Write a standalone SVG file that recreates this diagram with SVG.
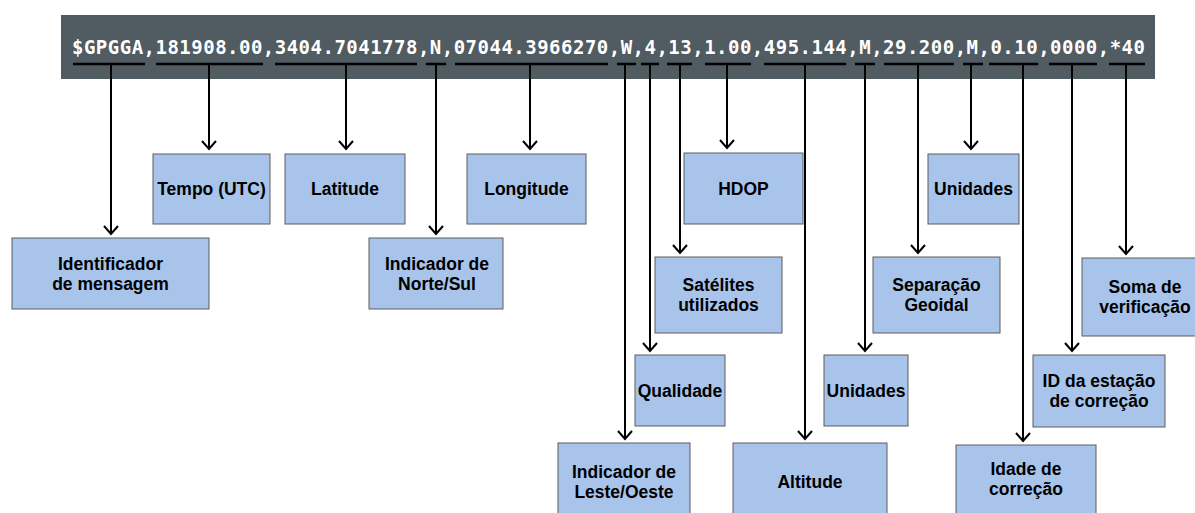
<svg xmlns="http://www.w3.org/2000/svg" width="1195" height="513" viewBox="0 0 1195 513">
<style>
.box{fill:#a9c4eb;stroke:#5c5c5c;stroke-width:1}
.lbl{font-family:"Liberation Sans",Arial,sans-serif;font-weight:bold;font-size:17.5px;fill:#000;text-anchor:middle}
.ul{stroke:#000;stroke-width:2.5;fill:none}
.con{stroke:#000;stroke-width:2;fill:none;marker-end:url(#arr)}
.nmea{font-family:"DejaVu Sans Mono","Liberation Mono",monospace;font-weight:bold;font-size:19px;fill:#fff}
</style>
<defs>
<marker id="arr" markerUnits="userSpaceOnUse" markerWidth="20" markerHeight="20" refX="0" refY="0" orient="auto" overflow="visible">
<path d="M-8,-7 L0,0 L-8,7" fill="none" stroke="#000" stroke-width="2"/>
</marker>
</defs>
<rect width="1195" height="513" fill="#fff"/>
<g id="header">
<rect x="61" y="15" width="1094" height="64" fill="#505b62"/>
<text class="nmea" x="72" y="54" textLength="1073" lengthAdjust="spacing">$GPGGA,181908.00,3404.7041778,N,07044.3966270,W,4,13,1.00,495.144,M,29.200,M,0.10,0000,*40</text>
<g id="underlines">
<line class="ul" x1="73" y1="64" x2="145" y2="64"/>
<line class="ul" x1="156" y1="64" x2="263" y2="64"/>
<line class="ul" x1="275" y1="64" x2="417" y2="64"/>
<line class="ul" x1="426" y1="64" x2="446" y2="64"/>
<line class="ul" x1="455" y1="64" x2="608" y2="64"/>
<line class="ul" x1="617" y1="64" x2="636" y2="64"/>
<line class="ul" x1="641" y1="64" x2="659" y2="64"/>
<line class="ul" x1="667" y1="64" x2="692" y2="64"/>
<line class="ul" x1="705" y1="64" x2="751" y2="64"/>
<line class="ul" x1="764" y1="64" x2="846" y2="64"/>
<line class="ul" x1="855" y1="64" x2="875" y2="64"/>
<line class="ul" x1="884" y1="64" x2="954" y2="64"/>
<line class="ul" x1="963" y1="64" x2="983" y2="64"/>
<line class="ul" x1="989" y1="64" x2="1038" y2="64"/>
<line class="ul" x1="1049" y1="64" x2="1097" y2="64"/>
<line class="ul" x1="1109" y1="64" x2="1145" y2="64"/>
</g>
</g>
<g id="connectors">
<line class="con" x1="111" y1="64" x2="111" y2="234"/>
<line class="con" x1="209" y1="64" x2="209" y2="149"/>
<line class="con" x1="346" y1="64" x2="346" y2="149"/>
<line class="con" x1="436" y1="64" x2="436" y2="234"/>
<line class="con" x1="530" y1="64" x2="530" y2="149"/>
<line class="con" x1="625" y1="64" x2="625" y2="439"/>
<line class="con" x1="650" y1="64" x2="650" y2="351"/>
<line class="con" x1="680" y1="64" x2="680" y2="253"/>
<line class="con" x1="727" y1="64" x2="727" y2="148"/>
<line class="con" x1="805" y1="64" x2="805" y2="439"/>
<line class="con" x1="865" y1="64" x2="865" y2="351"/>
<line class="con" x1="918" y1="64" x2="918" y2="253"/>
<line class="con" x1="971" y1="64" x2="971" y2="149"/>
<line class="con" x1="1023" y1="64" x2="1023" y2="441"/>
<line class="con" x1="1072" y1="64" x2="1072" y2="351"/>
<line class="con" x1="1126" y1="64" x2="1126" y2="254"/>
</g>
<g id="n-identificador"><rect class="box" x="12" y="238" width="197" height="71"/><text class="lbl" x="110.5" y="270">Identificador</text><text class="lbl" x="110.5" y="290">de mensagem</text></g>
<g id="n-tempo"><rect class="box" x="153" y="154" width="117" height="70"/><text class="lbl" x="211.5" y="195">Tempo (UTC)</text></g>
<g id="n-latitude"><rect class="box" x="285" y="154" width="120" height="70"/><text class="lbl" x="345" y="195">Latitude</text></g>
<g id="n-norte-sul"><rect class="box" x="369" y="238" width="134" height="71"/><text class="lbl" x="437" y="270">Indicador de</text><text class="lbl" x="437" y="290">Norte/Sul</text></g>
<g id="n-longitude"><rect class="box" x="467" y="154" width="119" height="70"/><text class="lbl" x="526.5" y="195">Longitude</text></g>
<g id="n-hdop"><rect class="box" x="684" y="153" width="119" height="71"/><text class="lbl" x="743.5" y="194.5">HDOP</text></g>
<g id="n-satelites"><rect class="box" x="655" y="257" width="127" height="76"/><text class="lbl" x="718.5" y="291">Satélites</text><text class="lbl" x="718.5" y="311">utilizados</text></g>
<g id="n-qualidade"><rect class="box" x="635" y="355" width="90" height="71"/><text class="lbl" x="680" y="396.5">Qualidade</text></g>
<g id="n-leste-oeste"><rect class="box" x="558" y="443" width="132" height="80"/><text class="lbl" x="624" y="478">Indicador de</text><text class="lbl" x="624" y="498">Leste/Oeste</text></g>
<g id="n-altitude"><rect class="box" x="733" y="443" width="154" height="78"/><text class="lbl" x="810" y="488">Altitude</text></g>
<g id="n-unidades-alt"><rect class="box" x="824" y="355" width="84" height="71"/><text class="lbl" x="866" y="396.5">Unidades</text></g>
<g id="n-separacao"><rect class="box" x="873" y="257" width="127" height="76"/><text class="lbl" x="936.5" y="291">Separação</text><text class="lbl" x="936.5" y="311">Geoidal</text></g>
<g id="n-unidades-geo"><rect class="box" x="928" y="154" width="91" height="70"/><text class="lbl" x="973.5" y="195">Unidades</text></g>
<g id="n-idade"><rect class="box" x="956" y="445" width="140" height="72"/><text class="lbl" x="1026" y="475">Idade de</text><text class="lbl" x="1026" y="495">correção</text></g>
<g id="n-id-estacao"><rect class="box" x="1033" y="355" width="132" height="72"/><text class="lbl" x="1099" y="387">ID da estação</text><text class="lbl" x="1099" y="407">de correção</text></g>
<g id="n-soma"><rect class="box" x="1082" y="258" width="126" height="78"/><text class="lbl" x="1145" y="293">Soma de</text><text class="lbl" x="1145" y="313">verificação</text></g>
</svg>
